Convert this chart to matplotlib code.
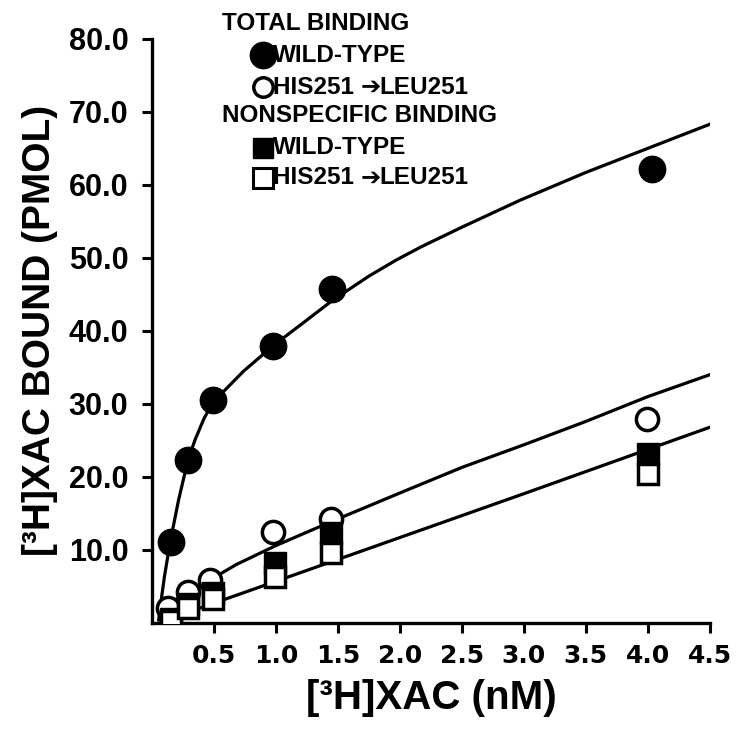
import matplotlib
matplotlib.use('Agg')
from matplotlib import pyplot as plt
from matplotlib.lines import Line2D

plt.rcParams['font.family'] = ['Liberation Sans', 'DejaVu Sans']
plt.rcParams['font.weight'] = 'bold'

# Точки
wt_total_x = [0.15, 0.29, 0.49, 0.98, 1.45, 4.03]
wt_total_y = [11.1, 22.3, 30.5, 37.9, 45.7, 62.1]

his_total_x = [0.13, 0.29, 0.47, 0.98, 1.44, 3.99]
his_total_y = [2.1, 4.2, 5.9, 12.5, 14.3, 27.9]

wt_ns_x = [0.15, 0.29, 0.49, 0.99, 1.44, 4.0]
wt_ns_y = [0.5, 2.6, 4.1, 8.2, 12.3, 23.2]

his_ns_x = [0.15, 0.29, 0.49, 0.99, 1.44, 4.0]
his_ns_y = [0.3, 2.0, 3.3, 6.3, 9.6, 20.4]

# Кривые аппроксимации, тоже
fit_total_x = [0.054, 0.067, 0.1, 0.147, 0.214, 0.29, 0.35, 0.42, 0.49, 0.74, 0.98,
               1.22, 1.45, 1.75, 1.97, 2.17, 2.5, 2.97, 3.5, 4.0, 4.5]
fit_total_y = [0.4, 2.2, 6.3, 11.1, 16.8, 22.3, 25.2, 28.0, 30.2, 34.5, 38.0,
               41.1, 44.1, 47.5, 49.7, 51.5, 54.2, 57.9, 61.7, 65.0, 68.3]

fit_his_x = [0.07, 0.12, 0.3, 0.5, 0.68, 1.0, 1.45, 2.0, 2.5, 3.0, 3.5, 4.0, 4.5]
fit_his_y = [1.0, 2.5, 4.3, 6.2, 8.0, 10.6, 13.9, 17.8, 21.3, 24.4, 27.6, 31.0, 34.0]

fit_ns_x = [0.08, 1.0, 2.0, 3.0, 4.5]
fit_ns_y = [0.2, 5.7, 11.7, 17.7, 26.8]

x_ticks = [0.5, 1.0, 1.5, 2.0, 2.5, 3.0, 3.5, 4.0, 4.5]
y_ticks = [10, 20, 30, 40, 50, 60, 70, 80]

fig = plt.figure(figsize=(7.36, 7.32), dpi=100)
ax = fig.add_axes([0.2065, 0.149, 0.758, 0.798])

lw = 2.3
ax.plot(fit_total_x, fit_total_y, color='black', lw=lw, zorder=2)
ax.plot(fit_his_x, fit_his_y, color='black', lw=lw, zorder=2)
ax.plot(fit_ns_x, fit_ns_y, color='black', lw=lw, zorder=2)

ax.plot(his_total_x, his_total_y, 'o', ms=16, mfc='white', mec='black', mew=2.5, zorder=3)
ax.plot(wt_total_x, wt_total_y, 'o', ms=19, mfc='black', mec='black', zorder=4)
ax.plot(wt_ns_x, wt_ns_y, 's', ms=16, mfc='black', mec='black', zorder=5)
ax.plot(his_ns_x, his_ns_y, 's', ms=15, mfc='white', mec='black', mew=2.5, zorder=6)

ax.set_xlim(0, 4.5)
ax.set_ylim(0, 80)
ax.set_xticks(x_ticks)
ax.set_xticklabels([f'{v:.1f}' for v in x_ticks], fontsize=18,
                   family=['DejaVu Sans'], fontweight='bold')
ax.set_yticks(y_ticks)
ax.set_yticklabels([f'{v:.1f}' for v in y_ticks], fontsize=22)
ax.tick_params(axis='both', direction='out', length=7, width=2.2)
ax.tick_params(axis='x', pad=8)
ax.tick_params(axis='y', pad=10)

for side in ['top', 'right']:
    ax.spines[side].set_visible(False)
for side in ['left', 'bottom']:
    ax.spines[side].set_linewidth(2.4)

ax.set_xlabel('[³H]XAC (nM)', fontsize=29, fontweight='bold', labelpad=8)
ax.set_ylabel('[³H]XAC BOUND (PMOL)', fontsize=28, fontweight='bold', labelpad=8)

# Легенда
W, H = 736, 732
def fx(px):
    return px / W
def fy(py):
    return 1 - py / H

fs = 17.5
renderer = fig.canvas.get_renderer()

def mutant_label(py):
    t1 = fig.text(fx(273), fy(py), 'HIS251 ', fontsize=fs, va='center')
    bb = t1.get_window_extent(renderer)
    t2 = fig.text(bb.x1 / W, fy(py), '\u2794', fontsize=fs, va='center',
                  family=['DejaVu Sans'])
    bb2 = t2.get_window_extent(renderer)
    fig.text(bb2.x1 / W - 0.002, fy(py), 'LEU251', fontsize=fs, va='center')

fig.text(fx(222), fy(23), 'TOTAL BINDING', fontsize=fs, va='center')
fig.text(fx(273), fy(55), 'WILD-TYPE', fontsize=fs, va='center')
mutant_label(87)
fig.text(fx(222), fy(116), 'NONSPECIFIC BINDING', fontsize=fs, va='center')
fig.text(fx(273), fy(148), 'WILD-TYPE', fontsize=fs, va='center')
mutant_label(178)

fig.add_artist(Line2D([fx(263)], [fy(55)], marker='o', ms=19, mfc='black', mec='black'))
fig.add_artist(Line2D([fx(263)], [fy(87)], marker='o', ms=14, mfc='white', mec='black', mew=2.5))
fig.add_artist(Line2D([fx(263)], [fy(148)], marker='s', ms=15, mfc='black', mec='black'))
fig.add_artist(Line2D([fx(263)], [fy(178)], marker='s', ms=14, mfc='white', mec='black', mew=2.2))

plt.savefig('out.png', dpi=100)
